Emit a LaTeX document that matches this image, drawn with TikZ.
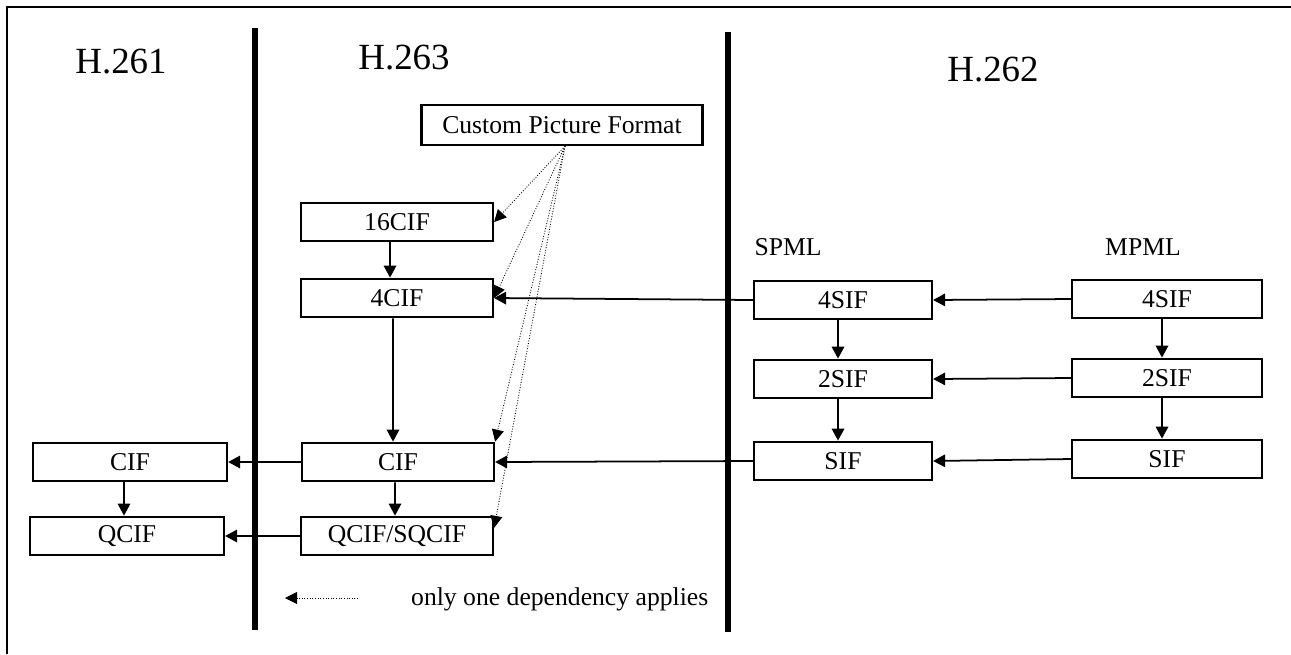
\documentclass[tikz,border=0pt]{standalone}
\usepackage{fontspec}
\setmainfont{Liberation Serif}
\usetikzlibrary{arrows.meta, positioning, calc}

\begin{document}
\begin{tikzpicture}[x=0.02cm, y=-0.02cm,
    fmt/.style={draw, line width=1.3pt, minimum height=0.77cm, inner sep=0pt, font=\fontsize{14.6}{16}\selectfont},
    fmtA/.style={fmt, minimum width=3.88cm},
    fmtB/.style={fmt, minimum width=3.84cm},
    fmtS/.style={fmt, minimum width=3.56cm},
    fmtM/.style={fmt, minimum width=3.8cm},
    dep/.style={-{Triangle[length=0.24cm, width=0.25cm]}, line width=1pt},
    onedep/.style={-{Triangle[length=0.24cm, width=0.24cm]}, densely dotted, line width=0.5pt},
    stdname/.style={font=\fontsize{21}{25}\selectfont},
    profile/.style={font=\fontsize{14.6}{16}\selectfont},
    divider/.style={line width=3.5pt}]
    \useasboundingbox (0,0) rectangle (1291,654);

    % Frame and column dividers
    \draw[line width=1.6pt] (1291,7) -- (7,7) -- (7,654);
    \draw[divider] (255,28) -- (255,630);
    \draw[divider] (728,32) -- (728,632);

    % Headings
    \node[stdname] (h261) at (121,62) {H.261};
    \node[stdname] (h263) at (404,58) {H.263};
    \node[stdname] (h262) at (993,70) {H.262};
    \node[profile] (spml) at (788,247) {SPML};
    \node[profile] (mpml) at (1143,247) {MPML};

    % Nodes
    \node[fmt, minimum width=5.62cm, minimum height=0.8cm] (cpf) at (562,125) {Custom Picture Format};
    \node[fmtB] (cif16) at (397,222) {16CIF};
    \node[fmtB] (cif4) at (397,298) {4CIF};
    \node[fmtB] (cif) at (398,462) {CIF};
    \node[fmtB] (qsq) at (397,536) {QCIF/SQCIF};

    \node[fmtA] (oldcif) at (130,462) {CIF};
    \node[fmtA] (oldqcif) at (127,536) {QCIF};

    \node[fmtS] (sp4) at (843,300) {4SIF};
    \node[fmtS] (sp2) at (843,379) {2SIF};
    \node[fmtS] (sp1) at (843,461) {SIF};
    \node[fmtM] (mp4) at (1167,299) {4SIF};
    \node[fmtM] (mp2) at (1167,378) {2SIF};
    \node[fmtM] (mp1) at (1167,459) {SIF};

    % Paths
    \draw[dep] ([xshift=-0.14cm]cif16.south) -- ([xshift=-0.14cm]cif4.north);
    \draw[dep] ([xshift=-0.08cm]cif4.south) -- ([xshift=-0.1cm]cif.north);
    \draw[dep] ([xshift=-0.06cm]cif.south) -- ([xshift=-0.04cm]qsq.north);
    \draw[dep] ([xshift=-0.12cm]oldcif.south) -- ([xshift=-0.12cm]oldcif.south |- oldqcif.north);
    \draw[dep] (cif) -- (oldcif);
    \draw[dep] (qsq) -- (oldqcif);

    \draw[dep] ([xshift=-0.1cm]sp4.south) -- ([xshift=-0.1cm]sp2.north);
    \draw[dep] ([xshift=-0.1cm]sp2.south) -- ([xshift=-0.1cm]sp1.north);
    \draw[dep] ([xshift=-0.1cm]mp4.south) -- ([xshift=-0.1cm]mp2.north);
    \draw[dep] ([xshift=-0.1cm]mp2.south) -- ([xshift=-0.1cm]mp1.north);
    \draw[dep] (mp4.west) -- (sp4.east);
    \draw[dep] (mp2.west) -- (sp2.east);
    \draw[dep] (mp1.west) -- (sp1.east);
    \draw[dep] (sp4.west) -- (cif4.east);
    \draw[dep] (sp1.west) -- (cif.east);

    % dependencies of the custom format
    \draw[onedep] ([xshift=0.06cm]cpf.south) -- (cif16.east);
    \draw[onedep] ([xshift=0.06cm]cpf.south) -- (cif4.east);
    \draw[onedep] ([xshift=0.06cm]cpf.south) -- (cif.north east);
    \draw[onedep] ([xshift=0.06cm]cpf.south) -- ($(qsq.north east)!0.3!(qsq.south east)$);

    % Key
    \coordinate (keyfrom) at (358,598);
    \coordinate (keyto) at (285,598);
    \draw[onedep] (keyfrom) -- (keyto);
    \node[profile, anchor=west] (keytext) at (405,599) {only one dependency applies};
\end{tikzpicture}
\end{document}
